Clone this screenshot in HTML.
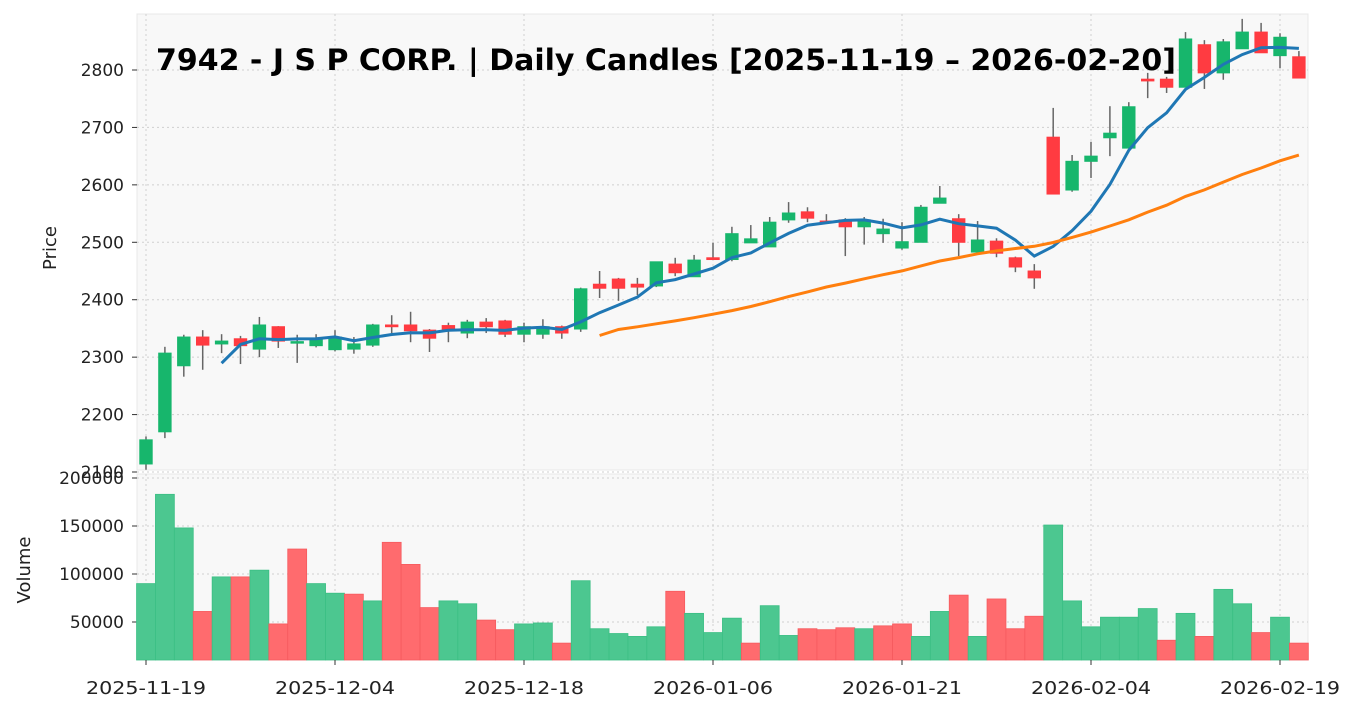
<!DOCTYPE html>
<html><head><meta charset="utf-8"><style>
body{margin:0;background:#fff;font-family:"Liberation Sans","DejaVu Sans",sans-serif}
svg text{font-family:"DejaVu Sans","Liberation Sans",sans-serif}
</style></head><body>
<svg id="c" width="1357" height="711" xmlns="http://www.w3.org/2000/svg"></svg>
<script>
const dates=["2025-11-19","2025-12-04","2025-12-18","2026-01-06","2026-01-21","2026-02-04","2026-02-19"];
const dateIdx=[0,10,20,30,40,50,60];
const opens=[2114,2170,2285,2335,2323,2332,2314,2353,2326,2320,2313,2314,2321,2356,2356,2347,2355,2342,2361,2363,2340,2340,2353,2349,2427,2436,2427,2424,2462,2440,2473,2470,2499,2492,2539,2553,2537,2539,2527,2515,2490,2500,2568,2541,2483,2502,2473,2450,2683,2591,2641,2682,2664,2784,2784,2770,2844,2795,2837,2866,2825,2823];
const closes=[2156,2307,2335,2321,2328,2320,2356,2328,2327,2330,2335,2323,2356,2353,2346,2333,2346,2361,2353,2340,2353,2353,2342,2419,2420,2420,2422,2466,2447,2469,2470,2515,2506,2535,2551,2542,2536,2527,2539,2523,2501,2561,2577,2500,2504,2481,2457,2438,2584,2641,2650,2690,2736,2781,2770,2854,2795,2849,2866,2830,2857,2786];
const highs=[2162,2318,2339,2347,2340,2337,2370,2354,2339,2340,2347,2335,2358,2373,2379,2349,2360,2365,2368,2365,2360,2366,2355,2421,2450,2438,2438,2466,2473,2478,2499,2527,2530,2544,2570,2561,2549,2542,2544,2541,2535,2565,2598,2549,2537,2507,2475,2462,2734,2652,2675,2737,2744,2795,2788,2866,2852,2854,2889,2882,2864,2833];
const lows=[2104,2159,2266,2278,2307,2288,2300,2316,2290,2317,2310,2306,2318,2342,2326,2309,2326,2333,2342,2335,2326,2332,2332,2344,2403,2398,2408,2422,2441,2440,2470,2467,2499,2492,2534,2535,2533,2476,2496,2499,2487,2500,2568,2476,2483,2474,2448,2419,2584,2588,2612,2650,2664,2751,2760,2770,2767,2783,2837,2830,2803,2786];
const volumes=[90000,183000,148000,61000,97000,97000,104000,48000,126000,90000,80000,79000,72000,133000,110000,65000,72000,69000,52000,42000,48000,49000,28000,93000,43000,38000,35000,45000,82000,59000,39000,54000,28000,67000,36000,43000,42000,44000,43000,46000,48000,35000,61000,78000,35000,74000,43000,56000,151000,72000,45000,55000,55000,64000,31000,59000,35000,84000,69000,39000,55000,28000];
const priceTicks=[2100,2200,2300,2400,2500,2600,2700,2800];
const volTicks=[50000,100000,150000,200000];

const NS="http://www.w3.org/2000/svg";
const svg=document.getElementById('c');
function el(t,a,p){const e=document.createElementNS(NS,t);for(const k in a)e.setAttribute(k,a[k]);(p||svg).appendChild(e);return e;}
const X=i=>146+18.9*i;
const PY=v=>70+(2800-v)*0.5743;
const VY=v=>670-v*48/50000;
const PL=137,PR=1308,PT=14,PB=470,VT=474,VB=660;
const GREEN="#17b66c",RED="#ff3b41",VG="#4cc790",VR="#ff6b6e";

let p=el('rect',{x:PL,y:PT,width:PR-PL,height:PB-PT,fill:"#f8f8f8",stroke:"#e8e8e8"});

p=el('rect',{x:PL,y:VT,width:PR-PL,height:VB-VT,fill:"#f8f8f8",stroke:"#e8e8e8"});


dateIdx.forEach(i=>{
  let g=el('line',{x1:X(i),x2:X(i),y1:PT,y2:PB,stroke:"#cfcfcf","stroke-dasharray":"2,3"});
  
  g=el('line',{x1:X(i),x2:X(i),y1:VT,y2:VB,stroke:"#cfcfcf","stroke-dasharray":"2,3"});
  
});
priceTicks.forEach(v=>{
  let g=el('line',{x1:PL,x2:PR,y1:PY(v),y2:PY(v),stroke:"#cfcfcf","stroke-dasharray":"2,3"});
  
  let t=el('line',{x1:PL-5,x2:PL,y1:PY(v),y2:PY(v),stroke:"#333"});
  
  let tx=el('text',{x:PL-13,y:PY(v)+6,"text-anchor":"end","font-size":"17",fill:"#222"});tx.textContent=v;
  
});
volTicks.forEach(v=>{
  let g=el('line',{x1:PL,x2:PR,y1:VY(v),y2:VY(v),stroke:"#cfcfcf","stroke-dasharray":"2,3"});
  
  let t=el('line',{x1:PL-5,x2:PL,y1:VY(v),y2:VY(v),stroke:"#333"});
  
  let tx=el('text',{x:PL-13,y:VY(v)+6,"text-anchor":"end","font-size":"17",fill:"#222"});tx.textContent=v;
  
});

volumes.forEach((v,i)=>{
  const up=i===0?true:closes[i]>=closes[i-1];
  const top=Math.max(VY(v),VT);
  let b=el('rect',{x:X(i)-9.45,y:top,width:18.9,height:VB-top,fill:up?VG:VR,stroke:up?"#3bbf84":"#f65a5e","stroke-width":0.8});
  
});

opens.forEach((o,i)=>{
  const c=closes[i],up=c>=o,col=up?GREEN:RED;
  let w=el('line',{x1:X(i),x2:X(i),y1:PY(highs[i]),y2:PY(lows[i]),stroke:"#666","stroke-width":1.5});
  
  const y1=PY(Math.max(o,c)),y2=PY(Math.min(o,c));
  let b=el('rect',{x:X(i)-6.2,y:y1,width:12.4,height:Math.max(y2-y1,1.5),fill:col,stroke:col,"stroke-width":1});
  
});

function ma(n){const pts=[];for(let i=n-1;i<closes.length;i++){let s=0;for(let k=i-n+1;k<=i;k++)s+=closes[k];pts.push(X(i).toFixed(1)+","+PY(s/n).toFixed(1));}return pts.join(" ");}
let m=el('polyline',{points:ma(5),fill:"none",stroke:"#1f77b4","stroke-width":3});

m=el('polyline',{points:ma(25),fill:"none",stroke:"#ff7f0e","stroke-width":3});


dateIdx.forEach((i,k)=>{
  let t=el('line',{x1:X(i),x2:X(i),y1:VB,y2:VB+5,stroke:"#333"});
  
  let tx=el('text',{x:X(i)-60,y:694,"font-size":"18",fill:"#222",textLength:"120",lengthAdjust:"spacingAndGlyphs"});tx.textContent=dates[k];
  
});

let t=el('text',{x:56,y:248,"text-anchor":"middle","font-size":"18",fill:"#222",transform:"rotate(-90 56 248)"});t.textContent="Price";

t=el('text',{x:30,y:570,"text-anchor":"middle","font-size":"18",fill:"#222",transform:"rotate(-90 30 570)"});t.textContent="Volume";

t=el('text',{x:156,y:70,"font-size":"29","font-weight":"bold",fill:"#000",textLength:"1020",lengthAdjust:"spacingAndGlyphs"});t.textContent="7942 - J S P CORP. | Daily Candles [2025-11-19 – 2026-02-20]";

</script>
</body></html>
